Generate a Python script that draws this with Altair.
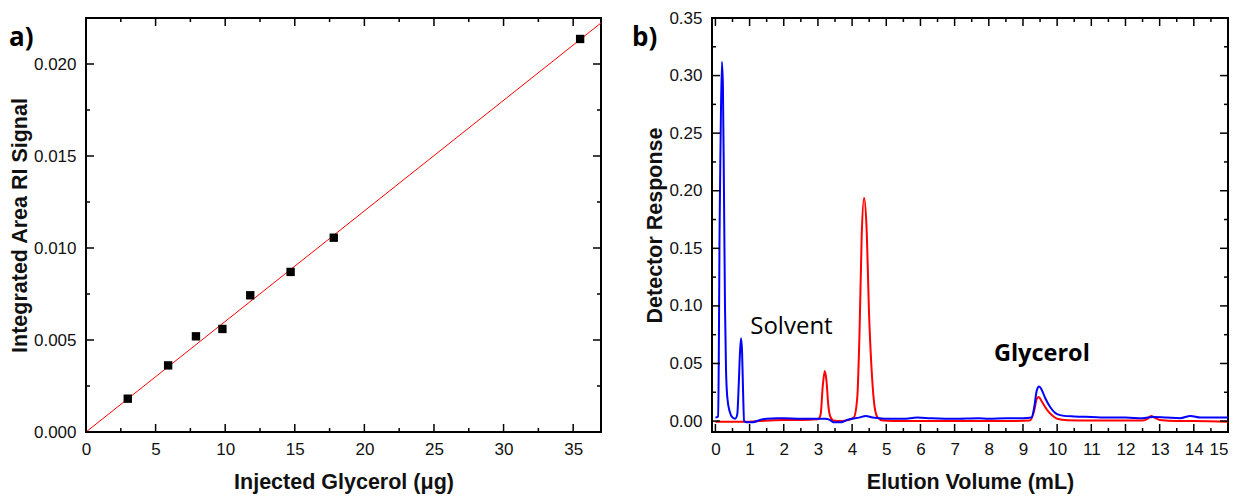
import altair as alt
import pandas as pd

# ---------------- Panel a data ----------------
inj_glycerol = [3.0, 5.9, 7.9, 9.8, 11.8, 14.7, 17.8, 35.5]
area_ri = [0.00181, 0.00362, 0.0052, 0.0056, 0.00743, 0.0087, 0.01056, 0.02136]
fit_x = [0.0, 37.0]
fit_y = [0.0, 0.02223]
a_xticks_major = [0, 5, 10, 15, 20, 25, 30, 35]
a_xticks_minor = [2.5, 7.5, 12.5, 17.5, 22.5, 27.5, 32.5]
a_yticks_major = [0.0, 0.005, 0.010, 0.015, 0.020]
a_yticks_minor = [0.0025, 0.0075, 0.0125, 0.0175]

# ---------------- Panel b data ----------------
blue_x = [0.0, 0.08, 0.10, 0.12, 0.15, 0.19, 0.22, 0.25, 0.28, 0.31, 0.35, 0.42, 0.50, 0.58,
          0.64, 0.68, 0.72, 0.75, 0.78, 0.81, 0.84, 0.90, 1.1, 1.3, 1.5, 1.8, 2.0, 2.5, 3.0,
          3.2, 3.35, 3.45, 3.7, 3.85, 4.0, 4.2, 4.4, 4.6, 4.8, 5.0, 5.5, 5.9, 6.3, 7.0, 7.7,
          8.0, 8.5, 9.0, 9.25, 9.33, 9.40, 9.47, 9.55, 9.65, 9.80, 10.0, 10.2, 10.5, 11.0,
          11.5, 12.0, 12.5, 12.8, 13.2, 13.6, 13.9, 14.2, 14.6, 15.0]
blue_y = [0.003, 0.004, 0.06, 0.16, 0.24, 0.312, 0.29, 0.20, 0.10, 0.045, 0.02, 0.008, 0.003,
          0.002, 0.006, 0.03, 0.06, 0.072, 0.06, 0.025, 0.0, -0.001, -0.001, 0.001, 0.002,
          0.0025, 0.0025, 0.002, 0.002, 0.002, 0.001, -0.001, -0.001, 0.001, 0.002, 0.003,
          0.0045, 0.003, 0.0025, 0.002, 0.002, 0.003, 0.0025, 0.002, 0.0025, 0.002, 0.0025,
          0.0025, 0.003, 0.012, 0.026, 0.030, 0.027, 0.020, 0.012, 0.006, 0.0045, 0.004,
          0.0035, 0.003, 0.003, 0.0025, 0.0035, 0.003, 0.0025, 0.0045, 0.003, 0.003, 0.003]
red_x = [0.0, 0.5, 1.0, 1.3, 1.6, 2.0, 2.5, 3.0, 3.08, 3.14, 3.2, 3.25, 3.3, 3.36, 3.45,
         3.7, 3.9, 4.05, 4.15, 4.22, 4.28, 4.35, 4.42, 4.5, 4.58, 4.66, 4.75, 4.9, 5.5, 6.5,
         7.5, 8.5, 9.2, 9.32, 9.40, 9.46, 9.55, 9.7, 9.85, 10.0, 10.3, 11.0, 12.0, 12.5,
         12.65, 12.75, 12.85, 13.0, 13.5, 14.0, 15.0]
red_y = [-0.0005, -0.0005, -0.0005, 0.0, 0.0005, 0.001, 0.001, 0.0015, 0.006, 0.03, 0.0435,
         0.035, 0.015, 0.004, 0.0005, 0.0, 0.001, 0.003, 0.02, 0.08, 0.16, 0.194, 0.17, 0.09,
         0.04, 0.012, 0.003, 0.0005, 0.0, 0.0, 0.0, 0.0, 0.0005, 0.008, 0.019, 0.021, 0.017,
         0.010, 0.005, 0.002, 0.0008, 0.0005, 0.0005, 0.0005, 0.002, 0.0045, 0.003, 0.001,
         0.0, 0.0, -0.0005]
b_xticks_major = list(range(0, 16))
b_xticks_minor = [i + 0.5 for i in range(0, 15)]
b_yticks_major = [0.0, 0.05, 0.10, 0.15, 0.20, 0.25, 0.30, 0.35]
b_yticks_minor = [0.025, 0.075, 0.125, 0.175, 0.225, 0.275, 0.325]
annot_text = ["Solvent", "Glycerol"]
annot_x = [1.02, 8.15]
annot_y = [0.082, 0.058]
annot_weight = ["normal", "bold"]

LABEL_FONT = "Liberation Sans"
NOTE_FONT = "Open Sans"


def xaxis(title, values, fmt, flush=False):
    return alt.Axis(title=title, values=values, format=fmt, ticks=False, domain=False,
                    grid=False, labelFont=LABEL_FONT, labelFontSize=17, labelColor="#111",
                    labelPadding=9, titleFont=LABEL_FONT, titleFontSize=21.5,
                    titleFontWeight="bold", titleColor="#111", titlePadding=14,
                    labelFlush=flush)


def yaxis(title, values, fmt):
    return alt.Axis(title=title, values=values, format=fmt, ticks=False, domain=False,
                    grid=False, labelFont=LABEL_FONT, labelFontSize=17, labelColor="#111",
                    labelPadding=10, titleFont=LABEL_FONT, titleFontSize=21.5,
                    titleFontWeight="bold", titleColor="#111", titlePadding=2,
                    labelFlush=False)


def tick_layers(xmaj, xmin, ymaj, ymin, xscale, yscale, xax, yax, W, H):
    layers = []
    for vals, ln in ((xmaj, 8), (xmin, 4)):
        d = pd.DataFrame({"v": vals})
        base = alt.Chart(d).mark_rule(color="black", strokeWidth=1.5)
        layers.append(base.encode(x=alt.X("v:Q", scale=xscale, axis=xax),
                                  y=alt.value(H), y2=alt.value(H - ln)))
        layers.append(base.encode(x=alt.X("v:Q", scale=xscale, axis=xax),
                                  y=alt.value(0), y2=alt.value(ln)))
    for vals, ln in ((ymaj, 8), (ymin, 4)):
        d = pd.DataFrame({"v": vals})
        base = alt.Chart(d).mark_rule(color="black", strokeWidth=1.5)
        layers.append(base.encode(y=alt.Y("v:Q", scale=yscale, axis=yax),
                                  x=alt.value(0), x2=alt.value(ln)))
        layers.append(base.encode(y=alt.Y("v:Q", scale=yscale, axis=yax),
                                  x=alt.value(W), x2=alt.value(W - ln)))
    return layers


# ---------------- Panel a ----------------
WA, HA = 515, 414
xs_a = alt.Scale(domain=[0, 37], nice=False, zero=False)
ys_a = alt.Scale(domain=[0, 0.0225], nice=False, zero=False)
xax_a = xaxis("Injected Glycerol (\u03bcg)", a_xticks_major, "d")
yax_a = yaxis("Integrated Area RI Signal", a_yticks_major, ".3f")

pts = pd.DataFrame({"x": inj_glycerol, "y": area_ri})
fit = pd.DataFrame({"x": fit_x, "y": fit_y})

fit_line = alt.Chart(fit).mark_line(color="#ff0000", strokeWidth=1, clip=True).encode(
    x=alt.X("x:Q", scale=xs_a, axis=xax_a),
    y=alt.Y("y:Q", scale=ys_a, axis=yax_a),
)
points = alt.Chart(pts).mark_point(shape="square", filled=True, color="black", size=70,
                                   opacity=1).encode(
    x=alt.X("x:Q", scale=xs_a, axis=xax_a),
    y=alt.Y("y:Q", scale=ys_a, axis=yax_a),
)
lab_a = alt.Chart(pd.DataFrame({"t": ["a)"]})).mark_text(
    align="left", baseline="middle", font=NOTE_FONT, fontSize=26, fontWeight="bold",
    color="black").encode(x=alt.value(-77), y=alt.value(20), text="t:N")

panel_a = alt.layer(
    fit_line, points,
    *tick_layers(a_xticks_major, a_xticks_minor, a_yticks_major, a_yticks_minor,
                 xs_a, ys_a, xax_a, yax_a, WA, HA),
    lab_a,
).properties(width=WA, height=HA)

# ---------------- Panel b ----------------
WB, HB = 516, 414
xs_b = alt.Scale(domain=[-0.1, 15.0], nice=False, zero=False)
ys_b = alt.Scale(domain=[-0.0095, 0.35], nice=False, zero=False)
xax_b = xaxis("Elution Volume (mL)", b_xticks_major, "d", flush=1)
yax_b = yaxis("Detector Response", b_yticks_major, ".2f")

curves = pd.concat([
    pd.DataFrame({"x": red_x, "y": red_y, "s": "red"}),
    pd.DataFrame({"x": blue_x, "y": blue_y, "s": "blue"}),
])

lines_b = alt.Chart(curves).mark_line(strokeWidth=2, clip=True, interpolate="monotone").encode(
    x=alt.X("x:Q", scale=xs_b, axis=xax_b),
    y=alt.Y("y:Q", scale=ys_b, axis=yax_b),
    color=alt.Color("s:N", scale=alt.Scale(domain=["red", "blue"], range=["#ff0000", "#0000ff"]),
                    legend=None),
    detail="s:N",
)

notes = pd.DataFrame({"t": annot_text, "x": annot_x, "y": annot_y, "w": annot_weight})
note_solvent = alt.Chart(notes[notes.w == "normal"]).mark_text(
    align="left", baseline="middle", font=NOTE_FONT, fontSize=24, color="black").encode(
    x=alt.X("x:Q", scale=xs_b, axis=xax_b), y=alt.Y("y:Q", scale=ys_b, axis=yax_b), text="t:N")
note_gly = alt.Chart(notes[notes.w == "bold"]).mark_text(
    align="left", baseline="middle", font=NOTE_FONT, fontSize=23.5, fontWeight="bold",
    color="black").encode(
    x=alt.X("x:Q", scale=xs_b, axis=xax_b), y=alt.Y("y:Q", scale=ys_b, axis=yax_b), text="t:N")
lab_b = alt.Chart(pd.DataFrame({"t": ["b)"]})).mark_text(
    align="left", baseline="middle", font=NOTE_FONT, fontSize=26, fontWeight="bold",
    color="black").encode(x=alt.value(-80), y=alt.value(20), text="t:N")

panel_b = alt.layer(
    lines_b, note_solvent, note_gly,
    *tick_layers(b_xticks_major, b_xticks_minor, b_yticks_major, b_yticks_minor,
                 xs_b, ys_b, xax_b, yax_b, WB, HB),
    lab_b,
).properties(width=WB, height=HB)

chart = alt.hconcat(panel_a, panel_b, spacing=28).properties(
    padding={"left": 0, "top": 0, "right": 0, "bottom": 0},
    background="white",
).configure_view(stroke="black", strokeWidth=2)

chart.save("out.html", embed_options={"renderer": "svg", "actions": False})
